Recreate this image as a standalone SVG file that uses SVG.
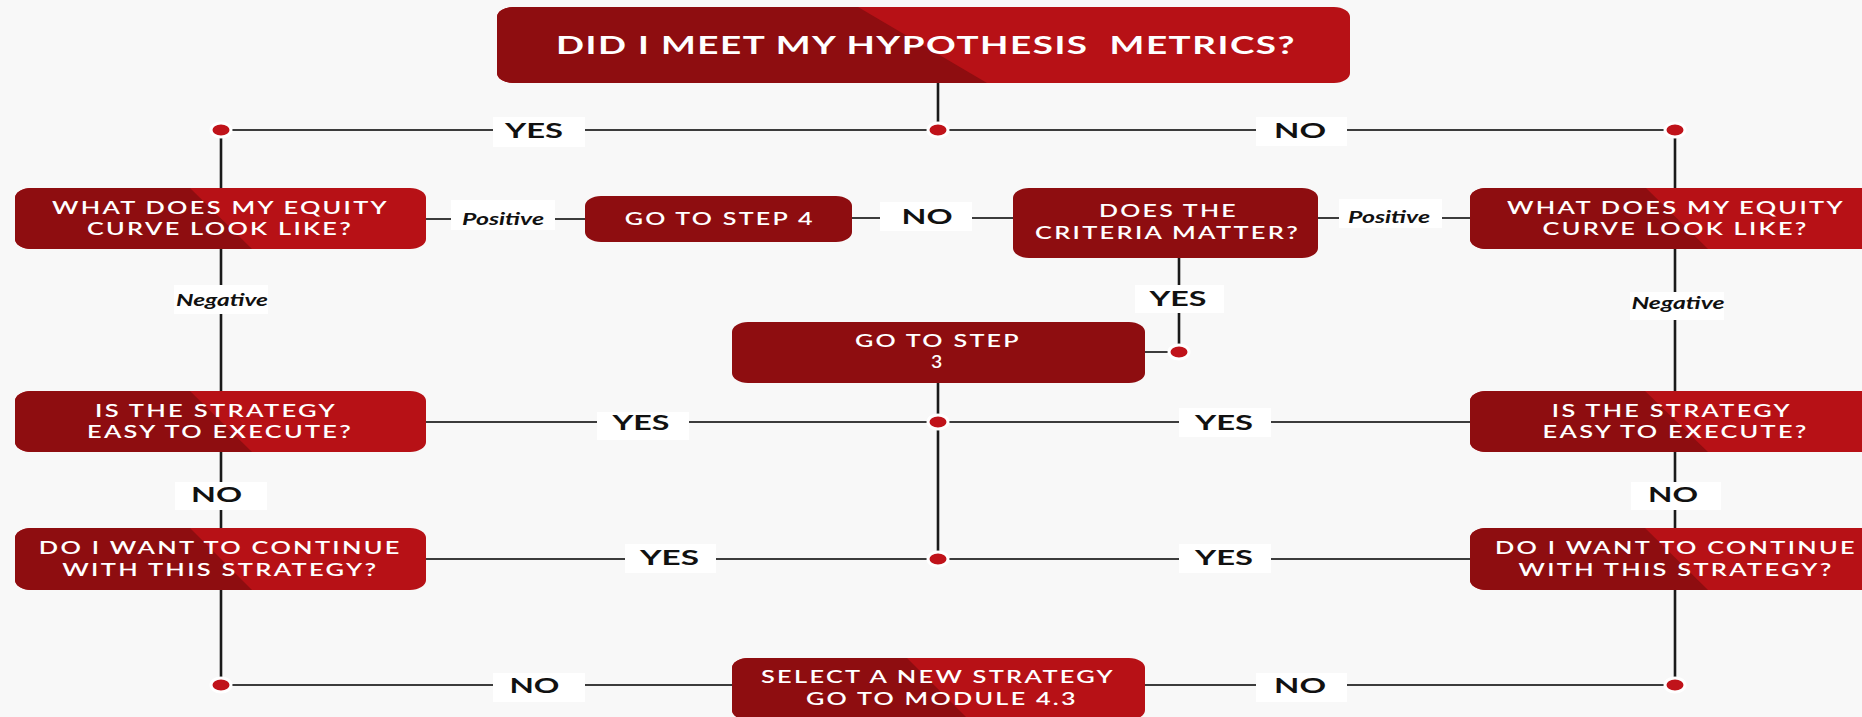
<svg xmlns="http://www.w3.org/2000/svg" width="1862" height="717" viewBox="0 0 1862 717">
<style>
.bg{fill:#f8f8f8}
.bright{fill:#b71116}
.dark{fill:#8e0d10}
.h{stroke:#3c3c3c;stroke-width:2;fill:none}
.v{stroke:#1a1a1a;stroke-width:2.6;fill:none}
.dot{fill:#c0131a;stroke:#ffffff;stroke-width:3}
.lbox{fill:#ffffff}
.nt{font-family:Lato,"Liberation Sans",sans-serif;font-weight:600;font-size:16.5px;letter-spacing:1.5px;fill:#ffffff;text-anchor:middle}
.tt{font-family:Lato,"Liberation Sans",sans-serif;font-weight:700;font-size:24px;letter-spacing:1px;fill:#ffffff;text-anchor:middle}
.lb{font-family:Lato,"Liberation Sans",sans-serif;font-weight:700;font-size:20px;fill:#111111;text-anchor:middle}
.it{font-family:Lato,"Liberation Sans",sans-serif;font-weight:700;font-style:italic;font-size:17px;fill:#111111;text-anchor:middle}
</style>
<rect class="bg" x="0" y="0" width="1862" height="717"/>
<g id="connectors">
<line class="v" x1="938" y1="83" x2="938" y2="130"/>
<line class="h" x1="221" y1="130" x2="1675" y2="130"/>
<line class="v" x1="221" y1="130" x2="221" y2="188"/>
<line class="v" x1="1675" y1="130" x2="1675" y2="188"/>
<line class="h" x1="426" y1="219" x2="585" y2="219"/>
<line class="h" x1="852" y1="218" x2="1013" y2="218"/>
<line class="h" x1="1318" y1="218" x2="1470" y2="218"/>
<line class="v" x1="1179" y1="258" x2="1179" y2="352"/>
<line class="h" x1="1145" y1="352" x2="1179" y2="352"/>
<line class="v" x1="221" y1="249" x2="221" y2="391"/>
<line class="v" x1="1675" y1="249" x2="1675" y2="391"/>
<line class="v" x1="938" y1="383" x2="938" y2="559"/>
<line class="h" x1="426" y1="422" x2="1470" y2="422"/>
<line class="v" x1="221" y1="452" x2="221" y2="528"/>
<line class="v" x1="1675" y1="452" x2="1675" y2="528"/>
<line class="h" x1="426" y1="559" x2="1470" y2="559"/>
<line class="v" x1="221" y1="590" x2="221" y2="685"/>
<line class="v" x1="1675" y1="590" x2="1675" y2="685"/>
<line class="h" x1="221" y1="685" x2="732" y2="685"/>
<line class="h" x1="1145" y1="685" x2="1675" y2="685"/>
<ellipse class="dot" cx="221" cy="130" rx="10" ry="7"/>
<ellipse class="dot" cx="938" cy="130" rx="10" ry="7"/>
<ellipse class="dot" cx="1675" cy="130" rx="10" ry="7"/>
<ellipse class="dot" cx="1179" cy="352" rx="10" ry="7"/>
<ellipse class="dot" cx="938" cy="422" rx="10" ry="7"/>
<ellipse class="dot" cx="938" cy="559" rx="10" ry="7"/>
<ellipse class="dot" cx="221" cy="685" rx="10" ry="7"/>
<ellipse class="dot" cx="1675" cy="685" rx="10" ry="7"/>
<g id="labels">
<rect class="lbox" x="493" y="117" width="92" height="30"/><text class="lb" x="534" y="137.7" textLength="58" lengthAdjust="spacingAndGlyphs">YES</text>
<rect class="lbox" x="1256" y="117" width="91" height="29"/><text class="lb" x="1300" y="138" textLength="52" lengthAdjust="spacingAndGlyphs">NO</text>
<rect class="lbox" x="451" y="200" width="104" height="30"/><text class="it" x="503" y="225" textLength="82" lengthAdjust="spacingAndGlyphs">Positive</text>
<rect class="lbox" x="880" y="202" width="92" height="29"/><text class="lb" x="927" y="224" textLength="51" lengthAdjust="spacingAndGlyphs">NO</text>
<rect class="lbox" x="1339" y="199" width="103" height="29"/><text class="it" x="1389" y="222.7" textLength="82" lengthAdjust="spacingAndGlyphs">Positive</text>
<rect class="lbox" x="174" y="285" width="94" height="29"/><text class="it" x="222" y="306" textLength="92" lengthAdjust="spacingAndGlyphs">Negative</text>
<rect class="lbox" x="1135" y="285" width="89" height="28"/><text class="lb" x="1178" y="306" textLength="57" lengthAdjust="spacingAndGlyphs">YES</text>
<rect class="lbox" x="1630" y="292" width="94" height="28"/><text class="it" x="1678" y="309.3" textLength="93" lengthAdjust="spacingAndGlyphs">Negative</text>
<rect class="lbox" x="597" y="412" width="92" height="28"/><text class="lb" x="641" y="430" textLength="57" lengthAdjust="spacingAndGlyphs">YES</text>
<rect class="lbox" x="1179" y="408" width="92" height="29"/><text class="lb" x="1224" y="430" textLength="58" lengthAdjust="spacingAndGlyphs">YES</text>
<rect class="lbox" x="175" y="482" width="92" height="28"/><text class="lb" x="216.5" y="502.3" textLength="51" lengthAdjust="spacingAndGlyphs">NO</text>
<rect class="lbox" x="1631" y="482" width="90" height="28"/><text class="lb" x="1673" y="502.3" textLength="50" lengthAdjust="spacingAndGlyphs">NO</text>
<rect class="lbox" x="625" y="544" width="91" height="29"/><text class="lb" x="669.5" y="565" textLength="59" lengthAdjust="spacingAndGlyphs">YES</text>
<rect class="lbox" x="1179" y="544" width="92" height="29"/><text class="lb" x="1224" y="565" textLength="58" lengthAdjust="spacingAndGlyphs">YES</text>
<rect class="lbox" x="493" y="673" width="92" height="29"/><text class="lb" x="534.4" y="693.3" textLength="50" lengthAdjust="spacingAndGlyphs">NO</text>
<rect class="lbox" x="1256" y="673" width="91" height="29"/><text class="lb" x="1300" y="693.3" textLength="52" lengthAdjust="spacingAndGlyphs">NO</text>
</g>
</g>
<g id="node-top">
<rect class="bright" x="497" y="7" width="853" height="76" rx="16" ry="10"/>
<path class="dark" d="M513,7 H858 L987,83 H513 A16,10 0 0 1 497,73 V17 A16,10 0 0 1 513,7 Z"/>
<text class="tt" x="926" y="54" textLength="740" lengthAdjust="spacingAndGlyphs" xml:space="preserve">DID I MEET MY HYPOTHESIS  METRICS?</text>
</g>
<g id="node-equity-left">
<rect class="bright" x="15" y="188" width="411" height="61" rx="16" ry="10"/>
<path class="dark" d="M31,188 H190 L252,249 H31 A16,10 0 0 1 15,239 V198 A16,10 0 0 1 31,188 Z"/>
<text class="nt" x="220.5" y="213.7" textLength="337" lengthAdjust="spacingAndGlyphs">WHAT DOES MY EQUITY</text>
<text class="nt" x="220" y="235.3" textLength="266" lengthAdjust="spacingAndGlyphs">CURVE LOOK LIKE?</text>
</g>
<g id="node-step4">
<rect class="dark" x="585" y="196" width="267" height="46" rx="16" ry="10"/>
<text class="nt" x="719.7" y="225" textLength="190" lengthAdjust="spacingAndGlyphs">GO TO STEP 4</text>
</g>
<g id="node-criteria">
<rect class="dark" x="1013" y="188" width="305" height="70" rx="16" ry="10"/>
<text class="nt" x="1168.5" y="217.3" textLength="139" lengthAdjust="spacingAndGlyphs">DOES THE</text>
<text class="nt" x="1167.5" y="238.7" textLength="265" lengthAdjust="spacingAndGlyphs">CRITERIA MATTER?</text>
</g>
<g id="node-equity-right">
<rect class="bright" x="1470" y="188" width="411" height="61" rx="16" ry="10"/>
<path class="dark" d="M1486,188 H1646 L1708,249 H1486 A16,10 0 0 1 1470,239 V198 A16,10 0 0 1 1486,188 Z"/>
<text class="nt" x="1676" y="213.7" textLength="338" lengthAdjust="spacingAndGlyphs">WHAT DOES MY EQUITY</text>
<text class="nt" x="1675.6" y="235.3" textLength="266" lengthAdjust="spacingAndGlyphs">CURVE LOOK LIKE?</text>
</g>
<g id="node-step3">
<rect class="dark" x="732" y="322" width="413" height="61" rx="16" ry="10"/>
<text class="nt" x="938" y="346.7" textLength="166" lengthAdjust="spacingAndGlyphs">GO TO STEP</text>
<text class="nt" x="937.5" y="368.3" textLength="13" lengthAdjust="spacingAndGlyphs">3</text>
</g>
<g id="node-easy-left">
<rect class="bright" x="15" y="391" width="411" height="61" rx="16" ry="10"/>
<path class="dark" d="M31,391 H190 L252,452 H31 A16,10 0 0 1 15,442 V401 A16,10 0 0 1 31,391 Z"/>
<text class="nt" x="216" y="416.7" textLength="242" lengthAdjust="spacingAndGlyphs">IS THE STRATEGY</text>
<text class="nt" x="220" y="438" textLength="266" lengthAdjust="spacingAndGlyphs">EASY TO EXECUTE?</text>
</g>
<g id="node-easy-right">
<rect class="bright" x="1470" y="391" width="411" height="61" rx="16" ry="10"/>
<path class="dark" d="M1486,391 H1645 L1708,452 H1486 A16,10 0 0 1 1470,442 V401 A16,10 0 0 1 1486,391 Z"/>
<text class="nt" x="1671.8" y="416.7" textLength="240" lengthAdjust="spacingAndGlyphs">IS THE STRATEGY</text>
<text class="nt" x="1675.6" y="438" textLength="266" lengthAdjust="spacingAndGlyphs">EASY TO EXECUTE?</text>
</g>
<g id="node-continue-left">
<rect class="bright" x="15" y="528" width="411" height="62" rx="16" ry="10"/>
<path class="dark" d="M31,528 H190 L252,590 H31 A16,10 0 0 1 15,580 V538 A16,10 0 0 1 31,528 Z"/>
<text class="nt" x="220.3" y="554" textLength="363" lengthAdjust="spacingAndGlyphs">DO I WANT TO CONTINUE</text>
<text class="nt" x="220.3" y="575.7" textLength="316" lengthAdjust="spacingAndGlyphs">WITH THIS STRATEGY?</text>
</g>
<g id="node-continue-right">
<rect class="bright" x="1470" y="528" width="411" height="62" rx="16" ry="10"/>
<path class="dark" d="M1486,528 H1645 L1708,590 H1486 A16,10 0 0 1 1470,580 V538 A16,10 0 0 1 1486,528 Z"/>
<text class="nt" x="1676" y="554" textLength="362" lengthAdjust="spacingAndGlyphs">DO I WANT TO CONTINUE</text>
<text class="nt" x="1676" y="575.7" textLength="315" lengthAdjust="spacingAndGlyphs">WITH THIS STRATEGY?</text>
</g>
<g id="node-new-strategy">
<rect class="bright" x="732" y="658" width="413" height="62" rx="16" ry="10"/>
<path class="dark" d="M748,658 H907 L969,720 H748 A16,10 0 0 1 732,710 V668 A16,10 0 0 1 748,658 Z"/>
<text class="nt" x="938" y="683.3" textLength="354" lengthAdjust="spacingAndGlyphs">SELECT A NEW STRATEGY</text>
<text class="nt" x="942" y="705" textLength="272" lengthAdjust="spacingAndGlyphs">GO TO MODULE 4.3</text>
</g>
</svg>
